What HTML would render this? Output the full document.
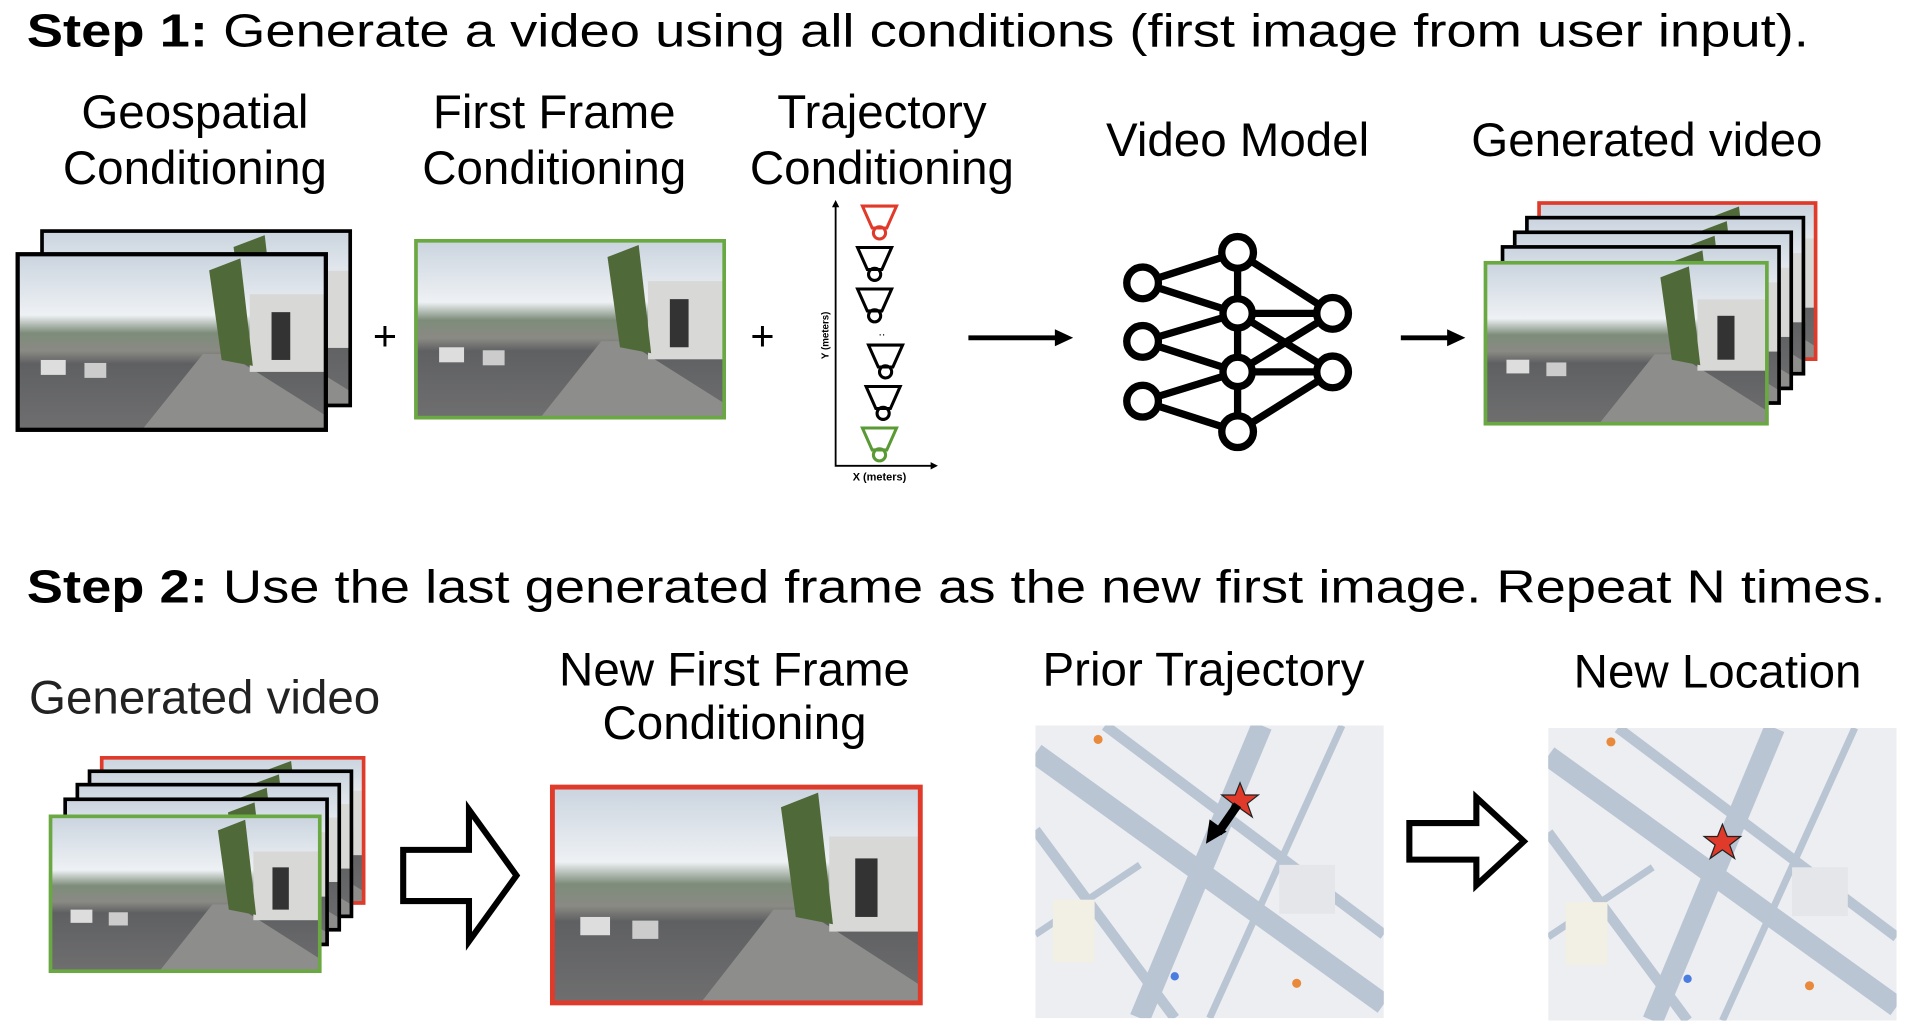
<!DOCTYPE html><html><head><style>html,body{margin:0;padding:0;background:#fff}svg{display:block}</style></head><body>
<svg width="1910" height="1034" viewBox="0 0 1568 848" preserveAspectRatio="none" xmlns="http://www.w3.org/2000/svg" font-family="Liberation Sans, sans-serif">
<defs>
<linearGradient id="sky" x1="0" y1="0" x2="0" y2="1"><stop offset="0" stop-color="#c9d3de"/><stop offset="0.35" stop-color="#eef1f4"/><stop offset="0.45" stop-color="#7d8c7a"/><stop offset="0.55" stop-color="#8a8a84"/><stop offset="0.62" stop-color="#5f6062"/><stop offset="1" stop-color="#6f6f70"/></linearGradient>
<symbol id="photo" viewBox="0 0 100 60" preserveAspectRatio="none">
<rect width="100" height="60" fill="url(#sky)"/>
<polygon points="40,60 60,34 68,34 100,55 100,60" fill="#8d8d8b"/>
<rect x="75" y="14" width="25" height="26" fill="#d8d8d6"/>
<rect x="82" y="20" width="6" height="16" fill="#333"/>
<polygon points="62,6 72,2 76,38 66,36" fill="#4f6a38"/>
<rect x="8" y="36" width="8" height="5" fill="#ddd"/><rect x="22" y="37" width="7" height="5" fill="#ccc"/>
</symbol>
<symbol id="map" viewBox="0 0 100 84" preserveAspectRatio="none">
<rect width="100" height="84" fill="#eceef1"/>
<g stroke="#b9c5d3" fill="none">
<path d="M0,8 L100,80" stroke-width="6"/><path d="M65,0 L30,84" stroke-width="6"/>
<path d="M0,30 L40,84" stroke-width="3"/><path d="M20,0 L100,60" stroke-width="3"/>
<path d="M88,0 L50,84" stroke-width="2"/><path d="M0,60 L30,40" stroke-width="2"/>
</g>
<rect x="70" y="40" width="16" height="14" fill="#e4e6e9"/><rect x="5" y="50" width="12" height="18" fill="#f2efe4"/>
<circle cx="18" cy="4" r="1.3" fill="#e9893b"/><circle cx="75" cy="74" r="1.3" fill="#e9893b"/><circle cx="40" cy="72" r="1.2" fill="#4a7de0"/>
</symbol>
<g id="cone"><polygon points="-14,0 14,0 6,18 -6,18" fill="none" stroke-width="2.5"/><circle cx="0" cy="22" r="5" fill="none" stroke-width="2.5"/></g>
</defs>

<text x="22" y="38" font-size="38" textLength="1463" lengthAdjust="spacingAndGlyphs"><tspan font-weight="bold">Step 1:</tspan> Generate a video using all conditions (first image from user input).</text>
<g font-size="39" text-anchor="middle">
<text x="160" y="105">Geospatial</text><text x="160" y="151">Conditioning</text>
<text x="455" y="105">First Frame</text><text x="455" y="151">Conditioning</text>
<text x="724" y="105">Trajectory</text><text x="724" y="151">Conditioning</text>
<text x="1016" y="128">Video Model</text>
<text x="1352" y="128">Generated video</text>
</g>

<use href="#photo" x="33" y="188" width="256" height="146"/><rect x="34.5" y="189.5" width="253" height="143" fill="none" stroke="#000" stroke-width="3"/>
<use href="#photo" x="13" y="207" width="256" height="147"/><rect x="14.5" y="208.5" width="253" height="144" fill="none" stroke="#000" stroke-width="3.5"/>
<text x="316" y="287" font-size="34" text-anchor="middle">+</text>
<use href="#photo" x="340" y="196" width="256" height="148"/><rect x="341.5" y="197.5" width="253" height="145" fill="none" stroke="#6aa842" stroke-width="3"/>
<text x="626" y="287" font-size="34" text-anchor="middle">+</text>

<path d="M686,168 L686,382 L766,382" fill="none" stroke="#000" stroke-width="1.5"/>
<path d="M683,170 L686,164 L689,170Z M764,379 L770,382 L764,385Z"/>
<use href="#cone" x="722" y="169" stroke="#e03a2a"/>
<use href="#cone" x="718" y="203" stroke="#000"/>
<use href="#cone" x="718" y="237" stroke="#000"/>
<text x="724" y="275" font-size="10" text-anchor="middle">..</text>
<use href="#cone" x="727" y="283" stroke="#000"/>
<use href="#cone" x="725" y="317" stroke="#000"/>
<use href="#cone" x="722" y="351" stroke="#5a9a34"/>
<text x="680" y="275" font-size="8" font-weight="bold" transform="rotate(-90 680 275)" text-anchor="middle">Y (meters)</text>
<text x="722" y="394" font-size="9" font-weight="bold" text-anchor="middle">X (meters)</text>

<path d="M795,277 L868,277" stroke="#000" stroke-width="4"/><path d="M866,270 L881,277 L866,284Z"/>

<g stroke="#000" stroke-width="6" fill="#fff">
<path d="M938,232 L1016,207 M938,232 L1016,257 M938,280 L1016,257 M938,280 L1016,305 M938,329 L1016,305 M938,329 L1016,354 M1016,207 L1016,354 M1016,207 L1094,257 M1016,257 L1094,257 M1016,257 L1094,305 M1016,305 L1094,257 M1016,305 L1094,305 M1016,354 L1094,305" fill="none"/>
<circle cx="938" cy="232" r="13"/><circle cx="938" cy="280" r="13"/><circle cx="938" cy="329" r="13"/>
<circle cx="1016" cy="207" r="13"/><circle cx="1016" cy="257" r="12"/><circle cx="1016" cy="305" r="12"/><circle cx="1016" cy="354" r="13"/>
<circle cx="1094" cy="257" r="13"/><circle cx="1094" cy="305" r="13"/>
</g>

<path d="M1150,277 L1190,277" stroke="#000" stroke-width="4"/><path d="M1188,270 L1203,277 L1188,284Z"/>

<use href="#photo" x="1262" y="165" width="230" height="131"/><rect x="1263.5" y="166.5" width="227" height="128" fill="none" stroke="#e03a2a" stroke-width="3"/>
<use href="#photo" x="1252" y="177" width="230" height="131"/><rect x="1253.5" y="178.5" width="227" height="128" fill="none" stroke="#000" stroke-width="3"/>
<use href="#photo" x="1242" y="189" width="230" height="131"/><rect x="1243.5" y="190.5" width="227" height="128" fill="none" stroke="#000" stroke-width="3"/>
<use href="#photo" x="1232" y="201" width="230" height="131"/><rect x="1233.5" y="202.5" width="227" height="128" fill="none" stroke="#000" stroke-width="3"/>
<use href="#photo" x="1218" y="214" width="234" height="135"/><rect x="1219.5" y="215.5" width="231" height="132" fill="none" stroke="#6aa842" stroke-width="3"/>

<text x="22" y="494" font-size="38" textLength="1526" lengthAdjust="spacingAndGlyphs"><tspan font-weight="bold">Step 2:</tspan> Use the last generated frame as the new first image. Repeat N times.</text>
<g font-size="39" text-anchor="middle">
<text x="168" y="585" fill="#222">Generated video</text>
<text x="603" y="562">New First Frame</text><text x="603" y="606">Conditioning</text>
<text x="988" y="562">Prior Trajectory</text>
<text x="1410" y="564">New Location</text>
</g>

<use href="#photo" x="82" y="620" width="218" height="122"/><rect x="83.5" y="621.5" width="215" height="119" fill="none" stroke="#e03a2a" stroke-width="3"/>
<use href="#photo" x="72" y="631" width="218" height="122"/><rect x="73.5" y="632.5" width="215" height="119" fill="none" stroke="#000" stroke-width="3"/>
<use href="#photo" x="62" y="642" width="218" height="122"/><rect x="63.5" y="643.5" width="215" height="119" fill="none" stroke="#000" stroke-width="3"/>
<use href="#photo" x="52" y="654" width="218" height="122"/><rect x="53.5" y="655.5" width="215" height="119" fill="none" stroke="#000" stroke-width="3"/>
<use href="#photo" x="40" y="668" width="224" height="130"/><rect x="41.5" y="669.5" width="221" height="127" fill="none" stroke="#6aa842" stroke-width="3"/>

<path d="M331,697 L385,697 L385,664 L424,718 L385,772 L385,739 L331,739Z" fill="#fff" stroke="#000" stroke-width="5"/>

<use href="#photo" x="452" y="644" width="305" height="180"/><rect x="453.5" y="645.5" width="302" height="177" fill="none" stroke="#e03a2a" stroke-width="4"/>

<use href="#map" x="850" y="595" width="286" height="240"/>
<path d="M1018,642 l4,10 11,0 -9,7 4,11 -10,-7 -10,7 4,-11 -9,-7 11,0Z" fill="#e03a2a" stroke="#222" stroke-width="1"/>
<path d="M1016,660 L1000,683" stroke="#000" stroke-width="7"/><path d="M990,692 L993,672 L1007,682Z"/>

<path d="M1157,675 L1212,675 L1212,654 L1251,690 L1212,726 L1212,705 L1157,705Z" fill="#fff" stroke="#000" stroke-width="5"/>

<use href="#map" x="1271" y="597" width="286" height="240"/>
<path d="M1414,676 l4,10 11,0 -9,7 4,11 -10,-7 -10,7 4,-11 -9,-7 11,0Z" fill="#e03a2a" stroke="#222" stroke-width="1"/>
</svg>
</body></html>
